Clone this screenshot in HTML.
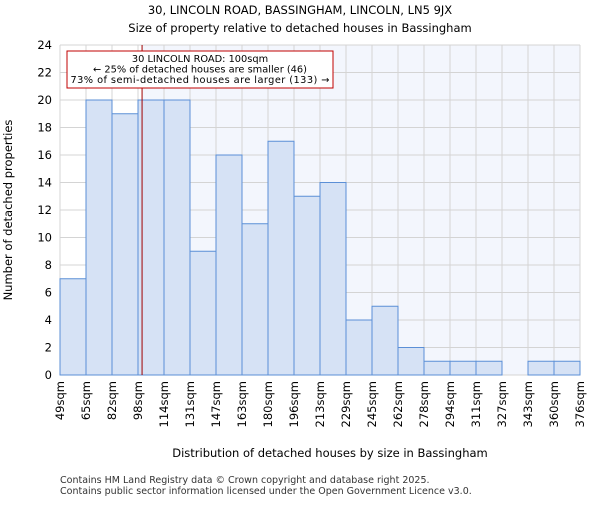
<!DOCTYPE html>
<html><head><meta charset="utf-8"><style>body{margin:0;background:#fff}svg{font-family:"DejaVu Sans","Liberation Sans",sans-serif}</style></head>
<body>
<svg id="c" width="600" height="500" xmlns="http://www.w3.org/2000/svg">
<text x="300" y="14" text-anchor="middle" font-size="11.5">30, LINCOLN ROAD, BASSINGHAM, LINCOLN, LN5 9JX</text>
<text x="300" y="32" text-anchor="middle" font-size="11.5">Size of property relative to detached houses in Bassingham</text>
<g id="plot"></g>
<text x="330" y="457" text-anchor="middle" font-size="11.5">Distribution of detached houses by size in Bassingham</text>
<text transform="translate(12,210) rotate(-90)" text-anchor="middle" font-size="11.5">Number of detached properties</text>
<text x="60" y="483" font-size="9.5" fill="#333">Contains HM Land Registry data © Crown copyright and database right 2025.</text>
<text x="60" y="494" font-size="9.5" fill="#333">Contains public sector information licensed under the Open Government Licence v3.0.</text>
</svg>
<script>
const binLabels=["49sqm","65sqm","82sqm","98sqm","114sqm","131sqm","147sqm","163sqm","180sqm","196sqm","213sqm","229sqm","245sqm","262sqm","278sqm","294sqm","311sqm","327sqm","343sqm","360sqm","376sqm"];
const counts=[7,20,19,20,20,9,16,11,17,13,14,4,5,2,1,1,1,0,1,1];
const yTicks=[0,2,4,6,8,10,12,14,16,18,20,22,24];
const marker=100.5;
const binEdges=[49,65,82,98,114,131,147,163,180,196,213,229,245,262,278,294,311,327,343,360,376];
const L=60,R=580,T=45,B=375,yMax=24;
const NS="http://www.w3.org/2000/svg";
const g=document.getElementById('plot');
const bw=(R-L)/counts.length;
const x=i=>L+i*bw;
const y=v=>B-v/yMax*(B-T);
function xv(v){for(let i=0;i<binEdges.length-1;i++){if(v<=binEdges[i+1])return x(i)+(v-binEdges[i])/(binEdges[i+1]-binEdges[i])*bw;}return R;}
function mk(t,a){const e=document.createElementNS(NS,t);for(const k in a)e.setAttribute(k,a[k]);g.appendChild(e);return e;}
const mx=xv(marker);
let e=mk('rect',{x:mx,y:T,width:R-mx,height:B-T,fill:'#f3f6fd'});


yTicks.forEach(t=>{let l=mk('line',{x1:L,x2:R,y1:y(t),y2:y(t),stroke:'#d4d4d4'});


let tx=mk('text',{x:L-8,y:y(t)+4,'text-anchor':'end','font-size':11.5});tx.textContent=t;

});
binLabels.forEach((s,i)=>{let l=mk('line',{x1:x(i),x2:x(i),y1:T,y2:B,stroke:'#d4d4d4'});


let tx=mk('text',{transform:`translate(${x(i)+4},${B+6}) rotate(-90)`,'text-anchor':'end','font-size':11.5});tx.textContent=s;

});
counts.forEach((v,i)=>{if(!v)return;let r=mk('rect',{x:x(i),y:y(v),width:bw,height:B-y(v),fill:'#d6e2f5',stroke:'#5b8fd6','stroke-width':1});

});
e=mk('line',{x1:mx,x2:mx,y1:T,y2:B,stroke:'#a00000','stroke-width':1});


e=mk('rect',{x:67,y:51,width:266,height:37,fill:'#fff',stroke:'#c00000'});


["30 LINCOLN ROAD: 100sqm","← 25% of detached houses are smaller (46)","73% of semi-detached houses are larger (133) →"].forEach((s,i)=>{let t=mk('text',{x:200,y:62+i*10.5,'text-anchor':'middle','font-size':9.8,textLength:i==2?259:null});t.textContent=s;
if(i!=2)t.removeAttribute('textLength');

});
</script>
</body></html>
